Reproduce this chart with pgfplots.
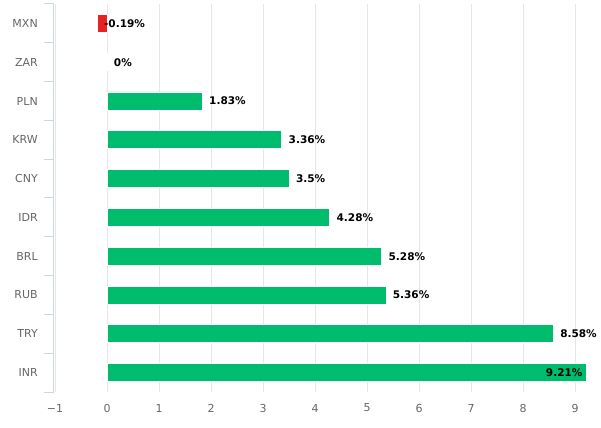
\documentclass[border=0pt]{standalone}
\usepackage{pgfplots}
\pgfplotsset{compat=1.18}
\usepackage{fontspec}
\setmainfont{DejaVu Sans}
\definecolor{barg}{HTML}{00BD6E}
\definecolor{barr}{HTML}{E62222}
\definecolor{axc}{HTML}{CCD6EB}
\definecolor{gridc}{HTML}{E6E6E6}
\definecolor{labc}{HTML}{666666}
\begin{document}
\begin{tikzpicture}
\path[use as bounding box] (0,0) rectangle (450.75pt,321pt);
\begin{axis}[
 at={(40.5pt,27pt)}, anchor=south west,
 scale only axis, width=407.25pt, height=291pt,
 xmin=-1.02, xmax=9.42, ymin=-0.5, ymax=9.5, y dir=reverse,
 axis y line*=left, axis x line*=bottom,
 x axis line style={draw=none},
 y axis line style={draw=axc, line width=0.75pt},
 xtick={-1,0,1,2,3,4,5,6,7,8,9},
 xticklabels={−1,0,1,2,3,4,5,6,7,8,9},
 xmajorgrids, major grid style={draw=gridc, line width=0.75pt},
 major tick length=0pt,
 ytick={0,1,2,3,4,5,6,7,8,9},
 yticklabels={MXN,ZAR,PLN,KRW,CNY,IDR,BRL,RUB,TRY,INR},
 extra y ticks={-0.5,0.5,1.5,2.5,3.5,4.5,5.5,6.5,7.5,8.5,9.5},
 extra y tick labels={},
 extra y tick style={major tick length=7.5pt, tick align=outside, tick style={draw=axc, line width=0.75pt}, ymajorgrids=false},
 xticklabel style={font=\fontsize{8.25}{10}\selectfont, text=labc, anchor=center, yshift=-12pt},
 yticklabel style={font=\fontsize{8.25}{10}\selectfont, text=labc, anchor=east, inner sep=0pt, xshift=-12pt},
 clip=false,
]
\addplot[xbar, bar width=13.5pt, bar shift=0pt, fill=barg, draw=white, line width=0.5pt]
 coordinates {(0,1) (1.83,2) (3.36,3) (3.5,4) (4.28,5) (5.28,6) (5.36,7) (8.58,8) (9.21,9)};
\addplot[xbar, bar width=13.5pt, bar shift=0pt, fill=barr, draw=white, line width=0.5pt]
 coordinates {(-0.19,0)};
\addplot[draw=none, mark=none, nodes near coords={\pgfplotspointmeta\%}, point meta=explicit symbolic,
 nodes near coords style={anchor=west, xshift=5pt, font=\bfseries\fontsize{7.9}{9}\selectfont, text=black, inner sep=0pt}]
 table[x=x, y=y, meta=l] {
x y l
-0.19 0 -0.19
0 1 0
1.83 2 1.83
3.36 3 3.36
3.5 4 3.5
4.28 5 4.28
5.28 6 5.28
5.36 7 5.36
8.58 8 8.58
};
\addplot[draw=none, mark=none, nodes near coords={\pgfplotspointmeta\%}, point meta=explicit symbolic,
 nodes near coords style={anchor=east, xshift=-2.5pt, font=\bfseries\fontsize{7.9}{9}\selectfont, text=black, inner sep=0pt}]
 table[x=x, y=y, meta=l] {
x y l
9.21 9 9.21
};
\end{axis}
\end{tikzpicture}
\end{document}
